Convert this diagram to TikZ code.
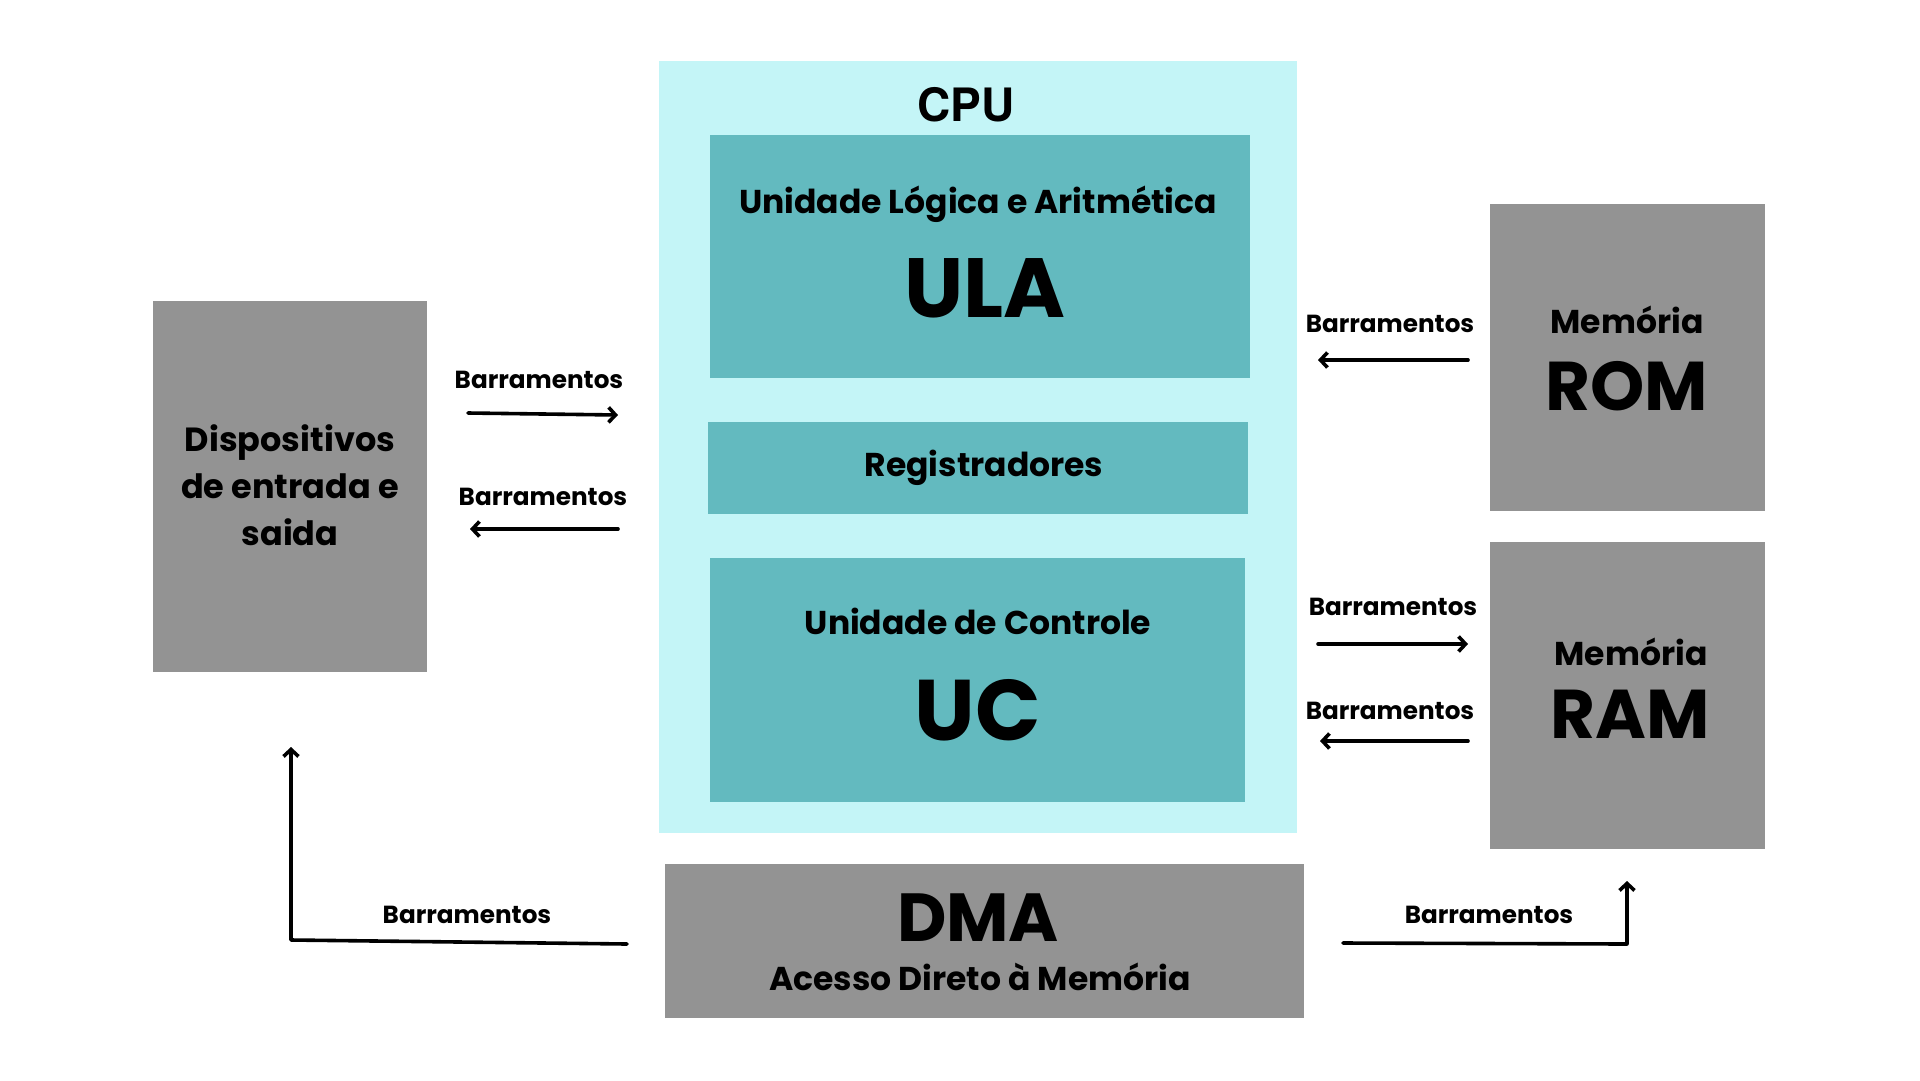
\documentclass[tikz,border=0pt]{standalone}
\usepackage{fontspec}
\setmainfont{Poppins}[UprightFont=* Bold]
\newfontfamily\cpufont{texgyreheros-bold}[Extension=.otf]
\usetikzlibrary{arrows.meta}
\definecolor{cpubg}{HTML}{C4F5F7}
\definecolor{tealbox}{HTML}{63BABF}
\definecolor{graybox}{HTML}{939393}
\tikzset{
  box/.style={inner sep=0pt, outer sep=0pt, anchor=north west},
  lbl/.style={inner sep=0pt, font=\fontsize{24.7}{28}\selectfont},
  mid/.style={inner sep=0pt, font=\fontsize{33}{38}\selectfont},
  bus/.style={line width=3.6pt, line cap=round, line join=round, -{Straight Barb[length=7pt,width=15pt,line width=3.6pt]}},
}
\begin{document}
\begin{tikzpicture}[x=1pt,y=-1pt]
\useasboundingbox[fill=white] (0,0) rectangle (1920,1080);
% boxes
\node[box, fill=cpubg, minimum width=638pt, minimum height=772pt] (cpu) at (659,61) {};
\node[box, fill=tealbox, minimum width=540pt, minimum height=243pt] (ula) at (710,135) {};
\node[box, fill=tealbox, minimum width=540pt, minimum height=92pt] (reg) at (708,422) {};
\node[box, fill=tealbox, minimum width=535pt, minimum height=244pt] (uc) at (710,558) {};
\node[box, fill=graybox, minimum width=274pt, minimum height=371pt] (dev) at (153,301) {};
\node[box, fill=graybox, minimum width=275pt, minimum height=307pt] (rom) at (1490,204) {};
\node[box, fill=graybox, minimum width=275pt, minimum height=307pt] (ram) at (1490,542) {};
\node[box, fill=graybox, minimum width=639pt, minimum height=154pt] (dma) at (665,864) {};
% texts
\node[inner sep=0pt, font=\cpufont\fontsize{46}{50}\selectfont] (cputxt) at (966,105) {CPU};
\node[mid] (ulat) at (978,204) {Unidade Lógica e Aritmética};
\node[inner sep=0pt, font=\fontsize{84}{92}\selectfont] (ulab) at (985,288) {ULA};
\node[mid] (regt) at (984,468) {Registradores};
\node[mid] (uct) at (978,621) {Unidade de Controle};
\node[inner sep=0pt, font=\fontsize{86}{96}\selectfont] (ucb) at (978,710) {UC};
\node[mid, font=\fontsize{33.5}{47}\selectfont, align=center] (devt) at (290,485) {Dispositivos\\de entrada e\\saida};
\node[mid] (romt) at (1627,320) {Memória};
\node[inner sep=0pt, font=\fontsize{69}{74}\selectfont] (romb) at (1627,386) {ROM};
\node[mid] (ramt) at (1631,652) {Memória};
\node[inner sep=0pt, font=\fontsize{69}{74}\selectfont] (ramb) at (1630,714) {RAM};
\node[inner sep=0pt, font=\fontsize{68}{72}\selectfont] (dmab) at (978,918) {DMA};
\node[mid] (dmat) at (980,977) {Acesso Direto à Memória};
% bus labels
\node[lbl] (l1) at (539,380) {Barramentos};
\node[lbl] (l2) at (543,497) {Barramentos};
\node[lbl] (l3) at (1390,324) {Barramentos};
\node[lbl] (l4) at (1393,607) {Barramentos};
\node[lbl] (l5) at (1390,711) {Barramentos};
\node[lbl] (l6) at (467,915) {Barramentos};
\node[lbl] (l7) at (1489,915) {Barramentos};
% arrow end points
\coordinate (a1s) at (468,413); \coordinate (a1e) at (618,415);
\coordinate (a2s) at (618,529); \coordinate (a2e) at (470,529);
\coordinate (a3s) at (1468,360); \coordinate (a3e) at (1318,360);
\coordinate (a4s) at (1318,644); \coordinate (a4e) at (1468,644);
\coordinate (a5s) at (1468,741); \coordinate (a5e) at (1320,741);
\coordinate (a6s) at (627,944); \coordinate (a6c) at (291,940); \coordinate (a6e) at (291,747);
\coordinate (a7s) at (1343,943); \coordinate (a7c) at (1627,944); \coordinate (a7e) at (1627,881);
\draw[bus] (a1s) -- (a1e);
\draw[bus] (a2s) -- (a2e);
\draw[bus] (a3s) -- (a3e);
\draw[bus] (a4s) -- (a4e);
\draw[bus] (a5s) -- (a5e);
\draw[bus] (a6s) -- (a6c) -- (a6e);
\draw[bus] (a7s) -- (a7c) -- (a7e);
\end{tikzpicture}
\end{document}
